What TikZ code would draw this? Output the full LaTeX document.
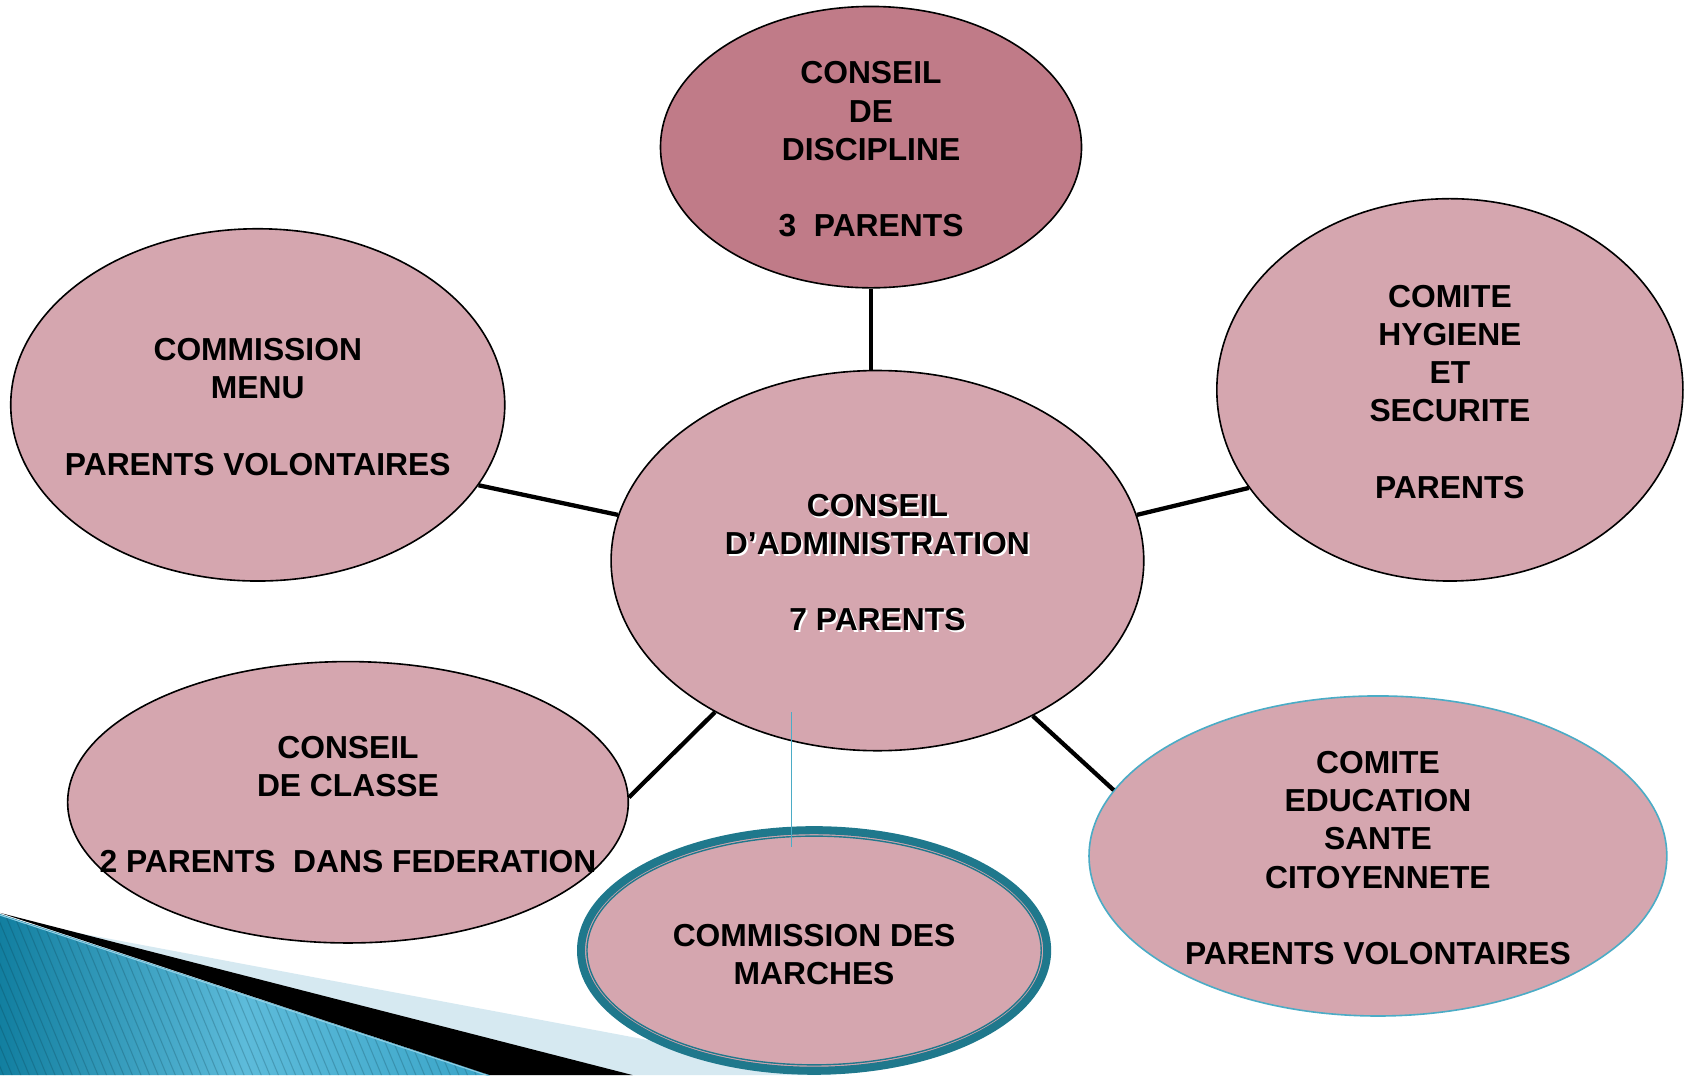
\documentclass[tikz,border=0pt]{standalone}
\usepackage{fontspec}
\setmainfont{Liberation Sans}
\usetikzlibrary{shapes.geometric}
\definecolor{rosefill}{HTML}{D5A6AF}
\definecolor{rosedark}{HTML}{C07B88}
\definecolor{tealdark}{HTML}{1F788C}
\definecolor{tealline}{HTML}{4BACC6}
\definecolor{lightband}{HTML}{D6E9F1}
\definecolor{bluedark}{HTML}{127FA0}
\definecolor{bluelight}{HTML}{5DBBDA}
\definecolor{bluemid}{HTML}{3AA5C8}
\definecolor{bluehi}{HTML}{8FD0E6}
\newcommand\glowtxt[1]{\leavevmode\rlap{\kern1.8pt\raisebox{-1.8pt}{\textcolor{white}{#1}}}#1}
\newcommand\txtlines[2][10pt]{\makebox[0pt]{\raisebox{0pt}[\dimexpr\height+#1-30pt\relax][\dimexpr\depth-30pt\relax]{\begin{tabular}{@{}c@{}}#2\end{tabular}}}}
\begin{document}
\begin{tikzpicture}[x=1pt,y=-1pt,
  bubble/.style={ellipse, draw=black, line width=1.5pt, fill=rosefill, inner sep=0pt,
    align=center, font=\fontsize{29.6}{35.5}\selectfont\bfseries},
  link/.style={line width=4pt, draw=black},
  thinlink/.style={line width=1.5pt, draw=tealline}
]
\useasboundingbox (0,0) rectangle (1568,1001);

% decoration bottom-left
\fill[lightband] (0,855) -- (777,1001) -- (0,1001) -- cycle;
\shade[left color=bluedark, right color=bluemid, middle color=bluelight]
  (0,851) -- (456,1001) -- (0,1001) -- cycle;
\begin{scope}
  \clip (0,851) -- (456,1001) -- (0,1001) -- cycle;
  \foreach \i in {-400,-392,...,480} {
    \draw[black!60!bluedark, opacity=0.22, line width=1pt] (\i,840) -- (\i+71,1010);
  }
\end{scope}
\draw[bluehi, line width=1pt] (0,852) -- (456,1002);
\fill[black] (0,850) -- (589,1001) -- (456,1001) -- cycle;

% nodes
\node[bubble, fill=rosedark, minimum width=392, minimum height=262] (cd) at (811,137)
  {\txtlines{CONSEIL\\DE\\DISCIPLINE\\ \\3\ \ PARENTS}};
\node[bubble, minimum width=460, minimum height=328] (cm) at (240,377)
  {\txtlines{COMMISSION\\MENU\\ \\PARENTS VOLONTAIRES}};
\node[bubble, minimum width=434, minimum height=356] (ch) at (1350,363)
  {\txtlines{COMITE\\HYGIENE\\ET\\SECURITE\\ \\PARENTS}};
\node[bubble, minimum width=496, minimum height=354] (ca) at (817,522)
  {\txtlines{\glowtxt{CONSEIL}\\\glowtxt{D’ADMINISTRATION}\\ \\\glowtxt{7 PARENTS}}};
\node[bubble, minimum width=522, minimum height=262] (cc) at (324,747)
  {\txtlines{CONSEIL\\DE CLASSE\\ \\2 PARENTS\ \ DANS FEDERATION}};
\node[bubble, draw=tealline, minimum width=538, minimum height=298] (ce) at (1283,797)
  {\txtlines{COMITE\\EDUCATION\\SANTE\\CITOYENNETE\\ \\PARENTS VOLONTAIRES}};
\node[bubble, draw=tealdark, line width=7.5pt, minimum width=434, minimum height=224] (cmar) at (758,885)
  {\txtlines[14pt]{COMMISSION DES\\MARCHES}};
\draw[tealdark, line width=1.3pt] (cmar.center) ellipse (211.5 and 106.5);

% connectors
\draw[link] (cd.south) -- (cd.south |- ca.north);
\draw[link] (cm.-20) -- (ca.170.3);
\draw[link] (ca.10.3) -- (ch.206.4);
\draw[link] (cc.1.3) -- (ca.223.4);
\draw[link] (ca.-45.8) -- (ce.166.8);

\coordinate (tA) at (737,663);
\coordinate (tB) at (737,789);
\draw[thinlink] (tA) -- (tB);
\end{tikzpicture}
\end{document}
